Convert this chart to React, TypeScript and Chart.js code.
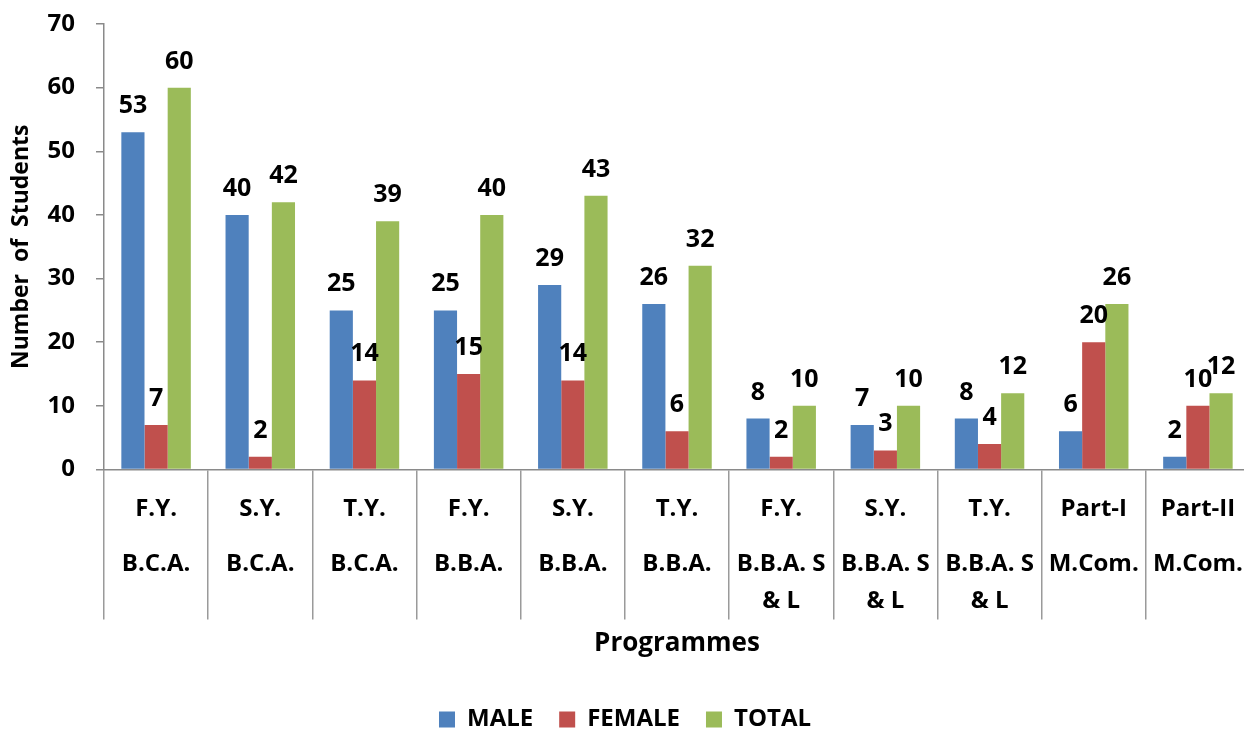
import React, { useEffect, useRef } from "react";
import { Chart, registerables } from "chart.js";

Chart.register(...registerables);

const yearLabels = ["F.Y.", "S.Y.", "T.Y.", "F.Y.", "S.Y.", "T.Y.", "F.Y.", "S.Y.", "T.Y.", "Part-I", "Part-II"];
const programmeLabels: string[][] = [
  ["B.C.A."], ["B.C.A."], ["B.C.A."],
  ["B.B.A."], ["B.B.A."], ["B.B.A."],
  ["B.B.A. S", "& L"], ["B.B.A. S", "& L"], ["B.B.A. S", "& L"],
  ["M.Com."], ["M.Com."],
];
const maleValues = [53, 40, 25, 25, 29, 26, 8, 7, 8, 6, 2];
const femaleValues = [7, 2, 14, 15, 14, 6, 2, 3, 4, 20, 10];
const totalValues = [60, 42, 39, 40, 43, 32, 10, 10, 12, 26, 12];
const seriesNames = ["MALE", "FEMALE", "TOTAL"];
const seriesColors = ["#4F81BD", "#C0504D", "#9BBB59"];

const FONT = "'Open Sans', 'DejaVu Sans', sans-serif";

const categoryLabelPlugin = {
  id: "categoryLabels",
  afterDraw(chart: any) {
    const { ctx, chartArea } = chart;
    const xs = chart.scales.x;
    ctx.save();
    ctx.fillStyle = "#000";
    ctx.textAlign = "center";
    ctx.textBaseline = "middle";
    ctx.font = `bold 24px ${FONT}`;
    yearLabels.forEach((lab, i) => {
      const x = xs.getPixelForValue(i);
      ctx.fillText(lab, x, chartArea.bottom + 40);
      programmeLabels[i].forEach((line, k) => {
        ctx.fillText(line, x, chartArea.bottom + 95 + k * 37);
      });
    });
    ctx.restore();
  },
};

const dataLabelPlugin = {
  id: "dataLabels",
  afterDatasetsDraw(chart: any) {
    const { ctx } = chart;
    ctx.save();
    ctx.fillStyle = "#000";
    ctx.textAlign = "center";
    ctx.textBaseline = "alphabetic";
    ctx.font = `bold 25px ${FONT}`;
    chart.data.datasets.forEach((ds: any, i: number) => {
      const meta = chart.getDatasetMeta(i);
      meta.data.forEach((bar: any, j: number) => {
        ctx.fillText(String(ds.data[j]), bar.x, bar.y - 19);
      });
    });
    ctx.restore();
  },
};

export default function App() {
  const ref = useRef<HTMLCanvasElement | null>(null);
  useEffect(() => {
    if (!ref.current) return;
    const chart = new Chart(ref.current, {
      type: "bar",
      data: {
        labels: yearLabels.map((y, i) => `${y} ${programmeLabels[i].join(" ")}`),
        datasets: [maleValues, femaleValues, totalValues].map((d, i) => ({
          label: seriesNames[i],
          data: d,
          backgroundColor: seriesColors[i],
          borderWidth: 0,
          categoryPercentage: 0.667,
          barPercentage: 1.0,
        })),
      },
      options: {
        responsive: false,
        animation: false,
        layout: { padding: { top: 24, left: 0, right: 0, bottom: -10.5 } },
        plugins: {
          tooltip: { enabled: false },
          legend: {
            position: "bottom",
            labels: {
              boxWidth: 16,
              boxHeight: 16,
              padding: 26,
              color: "#000",
              font: { family: FONT, size: 24, weight: "bold" },
            },
          },
        },
        scales: {
          x: {
            offset: true,
            grid: {
              offset: true,
              drawOnChartArea: false,
              drawTicks: true,
              tickLength: 150,
              color: "#9a9a9a",
              lineWidth: 1.5,
            },
            border: { display: true, color: "#8a8a8a", width: 1.5 },
            ticks: { display: false },
            title: {
              display: true,
              text: "Programmes",
              color: "#000",
              font: { family: FONT, size: 26, weight: "bold" },
              padding: { top: 0, bottom: 22 },
            },
            afterFit: (scale: any) => {
              scale.height = 212;
              scale.paddingLeft = 0;
              scale.paddingRight = 0;
            },
          },
          y: {
            min: 0,
            max: 70,
            ticks: {
              stepSize: 10,
              color: "#000",
              padding: 21,
              font: { family: FONT, size: 24, weight: "bold" },
            },
            grid: {
              drawOnChartArea: false,
              drawTicks: true,
              tickLength: 8,
              color: "#8a8a8a",
              lineWidth: 1.5,
            },
            border: { display: true, color: "#8a8a8a", width: 1.5 },
            title: {
              display: true,
              text: "Number  of  Students",
              color: "#000",
              font: { family: FONT, size: 23, weight: "bold" },
              padding: { top: 8, bottom: 0 },
            },
            afterFit: (scale: any) => {
              scale.width = 104;
              scale.paddingTop = 0;
              scale.paddingBottom = 0;
            },
          },
        },
      },
      plugins: [categoryLabelPlugin, dataLabelPlugin],
    });
    return () => chart.destroy();
  }, []);

  return (
    <div
      style={{
        position: "fixed",
        left: 0,
        top: 0,
        width: 1244,
        height: 731,
        overflow: "hidden",
        background: "#fff",
      }}
    >
      <canvas ref={ref} width={1250} height={731} style={{ display: "block" }} />
    </div>
  );
}
